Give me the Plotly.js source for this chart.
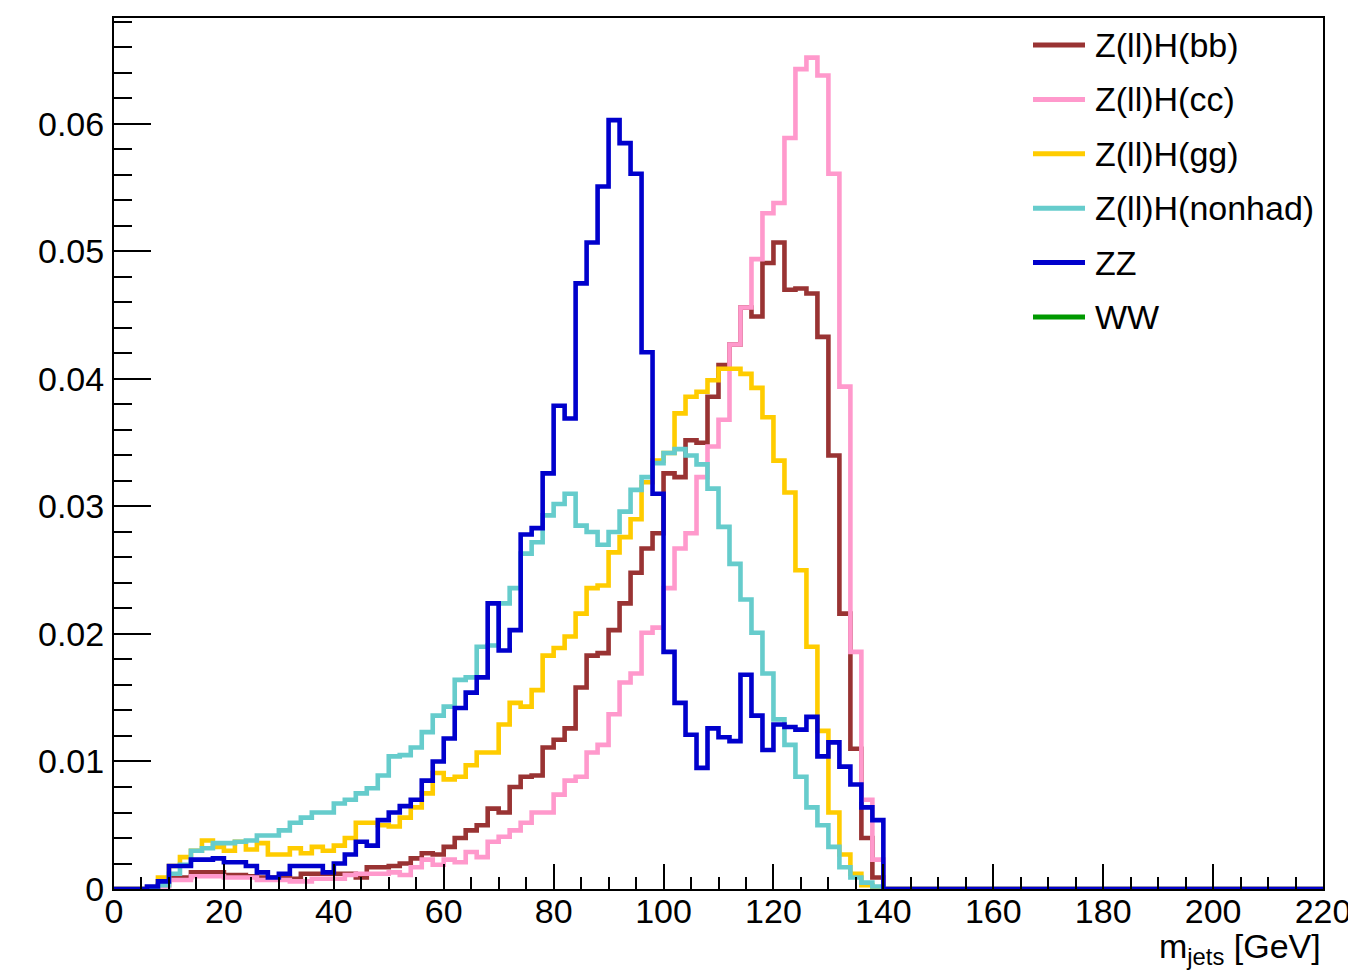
<!DOCTYPE html>
<html>
<head>
<meta charset="utf-8">
<script src="https://cdn.plot.ly/plotly-3.0.1.min.js"></script>
<style>html,body{margin:0;padding:0;background:#fff;}#chart{width:1348px;height:971px;}</style>
</head>
<body>
<div id="chart"></div>
<script>
// Histogram binning: 110 bins of 2 GeV from 0 to 220 GeV
const binWidth = 2;
const nBins = 110;

// Normalised m_jets distributions (per 2 GeV bin)
const zllHbb = [0,0,0,0,0.0003,0.0009,0.0009,0.0013,0.0013,0.0013,
0.0011,0.0011,0.001,0.0009,0.0009,0.0009,0.0008,0.0012,0.0012,0.0012,
0.0012,0.0012,0.0009,0.0017,0.0017,0.0018,0.002,0.0024,0.0028,0.0027,
0.0033,0.004,0.0046,0.005,0.0063,0.006,0.008,0.0088,0.0089,0.0111,
0.0117,0.0126,0.0158,0.0183,0.0185,0.0203,0.0224,0.0248,0.0267,0.0279,
0.0326,0.0323,0.0352,0.035,0.0386,0.0411,0.0427,0.0456,0.0449,0.0491,
0.0507,0.047,0.0471,0.0467,0.0433,0.034,0.0216,0.011,0.004,0.0009,
0,0,0,0,0,0,0,0,0,0, 0,0,0,0,0,0,0,0,0,0, 0,0,0,0,0,0,0,0,0,0, 0,0,0,0,0,0,0,0,0,0];

const zllHcc = [0,0,0,0,0.0002,0.0007,0.0007,0.001,0.001,0.001,
0.0009,0.0009,0.0009,0.0007,0.0007,0.0007,0.0006,0.0006,0.0008,0.0008,
0.0008,0.0011,0.0012,0.0012,0.0012,0.0013,0.0011,0.0017,0.0023,0.0019,
0.0023,0.0021,0.0029,0.0025,0.0037,0.0041,0.0046,0.0052,0.006,0.006,
0.0074,0.0085,0.0088,0.0107,0.0113,0.0137,0.0162,0.0169,0.0201,0.0205,
0.0236,0.0267,0.0279,0.0323,0.0347,0.0368,0.0427,0.0456,0.0494,0.053,
0.0538,0.0589,0.0643,0.0652,0.0638,0.0561,0.0394,0.0186,0.007,0.0023,
0,0,0,0,0,0,0,0,0,0, 0,0,0,0,0,0,0,0,0,0, 0,0,0,0,0,0,0,0,0,0, 0,0,0,0,0,0,0,0,0,0];

const zllHgg = [0,0,0,0.0001,0.0009,0.0018,0.0025,0.003,0.0038,0.0033,
0.003,0.0037,0.0031,0.0036,0.0027,0.0027,0.0032,0.0028,0.0033,0.003,
0.0034,0.004,0.0052,0.0052,0.005,0.0049,0.0056,0.0064,0.0075,0.0091,
0.0086,0.0088,0.0097,0.0107,0.0107,0.0129,0.0146,0.0143,0.0156,0.0183,
0.0189,0.0198,0.0216,0.0236,0.0238,0.0264,0.0276,0.029,0.0319,0.0336,
0.0342,0.0373,0.0386,0.039,0.0399,0.0408,0.0408,0.0404,0.0393,0.037,
0.0336,0.0311,0.025,0.019,0.0124,0.006,0.0027,0.0012,0.0003,0.0001,
0,0,0,0,0,0,0,0,0,0, 0,0,0,0,0,0,0,0,0,0, 0,0,0,0,0,0,0,0,0,0, 0,0,0,0,0,0,0,0,0,0];

const zllHnonhad = [0,0,0,0,0.0003,0.0012,0.0019,0.003,0.0032,0.0036,
0.0036,0.0037,0.0038,0.0042,0.0042,0.0046,0.0052,0.0056,0.006,0.006,
0.0067,0.007,0.0075,0.0079,0.0089,0.0104,0.0105,0.0111,0.0123,0.0136,
0.0143,0.0164,0.0166,0.019,0.0191,0.0224,0.0236,0.0263,0.0272,0.0293,
0.0302,0.031,0.0285,0.028,0.027,0.028,0.0296,0.0313,0.0323,0.0334,
0.0342,0.0345,0.034,0.0333,0.0314,0.0284,0.0255,0.0227,0.0201,0.0169,
0.0133,0.0113,0.0088,0.0064,0.005,0.0033,0.0017,0.0009,0.0005,0.0002,
0,0,0,0,0,0,0,0,0,0, 0,0,0,0,0,0,0,0,0,0, 0,0,0,0,0,0,0,0,0,0, 0,0,0,0,0,0,0,0,0,0];

const zz = [0,0,0,0.0002,0.0006,0.0018,0.0018,0.0023,0.0023,0.0024,
0.0021,0.0021,0.0018,0.0013,0.0009,0.0012,0.0018,0.0018,0.0018,0.0013,
0.002,0.0027,0.0037,0.0034,0.0054,0.006,0.0065,0.007,0.0085,0.01,
0.0118,0.0142,0.0154,0.0166,0.0224,0.0187,0.0203,0.0278,0.0283,0.0326,
0.0379,0.0369,0.0475,0.0507,0.0551,0.0603,0.0585,0.0561,0.0421,0.031,
0.0186,0.0146,0.0121,0.0095,0.0126,0.0119,0.0116,0.0168,0.0136,0.0109,
0.0129,0.0127,0.0125,0.0135,0.0104,0.0115,0.0096,0.0082,0.0064,0.0054,
0,0,0,0,0,0,0,0,0,0, 0,0,0,0,0,0,0,0,0,0, 0,0,0,0,0,0,0,0,0,0, 0,0,0,0,0,0,0,0,0,0];

// WW: no entries in any bin (nothing visible in the plot)
const ww = [0,0,0,0,0,0,0,0,0,0, 0,0,0,0,0,0,0,0,0,0, 0,0,0,0,0,0,0,0,0,0, 0,0,0,0,0,0,0,0,0,0,
0,0,0,0,0,0,0,0,0,0, 0,0,0,0,0,0,0,0,0,0, 0,0,0,0,0,0,0,0,0,0, 0,0,0,0,0,0,0,0,0,0,
0,0,0,0,0,0,0,0,0,0, 0,0,0,0,0,0,0,0,0,0, 0,0,0,0,0,0,0,0,0,0];

const seriesNames = ["Z(ll)H(bb)", "Z(ll)H(cc)", "Z(ll)H(gg)", "Z(ll)H(nonhad)", "ZZ", "WW"];
const seriesValues = [zllHbb, zllHcc, zllHgg, zllHnonhad, zz, ww];
const seriesColors = ["#993333", "#ff99cc", "#ffcc00", "#66cccc", "#0000cc", "#009900"];

const xTickVals = [0,20,40,60,80,100,120,140,160,180,200,220];
const yTickVals = [0,0.01,0.02,0.03,0.04,0.05,0.06];

// bin edges
const edges = [];
for (let i = 0; i <= nBins; i++) edges.push(i * binWidth);

const FONT = '"Liberation Sans", Arial, Helvetica, sans-serif';

// Drawing order: WW first (hidden under the axis), then legend order so ZZ ends on top
const drawOrder = [5, 0, 1, 2, 3, 4];
const traces = drawOrder.map(k => {
  const v = seriesValues[k];
  return {
    type: 'scatter', mode: 'lines', name: seriesNames[k],
    x: edges, y: v.concat([v[v.length - 1]]),
    line: {shape: 'hv', color: seriesColors[k], width: k === 5 ? 0 : 4.6},
    hoverinfo: 'x+y+name', showlegend: false
  };
});

// plot area in pixels (for placing the legend)
const L = 114, R = 25, T = 18, B = 82, W = 1348, H = 971;
const pw = W - L - R, ph = H - T - B;
const px2x = p => (p - L) / pw;
const py2y = p => (H - B - p) / ph;

const shapes = [], annotations = [];
const legY0 = 45, legStep = 54.4;
seriesNames.forEach((name, k) => {
  const yc = legY0 + k * legStep;
  shapes.push({type: 'line', xref: 'paper', yref: 'paper',
    x0: px2x(1033), x1: px2x(1085), y0: py2y(yc), y1: py2y(yc),
    line: {color: seriesColors[k], width: 5}});
  annotations.push({xref: 'paper', yref: 'paper', x: px2x(1093), y: py2y(yc),
    xanchor: 'left', yanchor: 'middle', showarrow: false, text: name,
    font: {family: FONT, size: 34, color: '#000'}});
});
annotations.push({xref: 'paper', yref: 'paper', x: 1, y: py2y(925),
  xanchor: 'right', yanchor: 'top', showarrow: false,
  text: 'm<sub>jets</sub> [GeV]', font: {family: FONT, size: 34, color: '#000'}});

const layout = {
  width: W, height: H,
  margin: {l: L, r: R, t: T, b: B, pad: 0},
  paper_bgcolor: '#fff', plot_bgcolor: '#fff',
  font: {family: FONT, size: 34, color: '#000'},
  showlegend: false,
  xaxis: {
    range: [0, 220], tickvals: xTickVals, ticktext: xTickVals.map(String),
    ticks: 'inside', ticklen: 25, tickwidth: 2, tickcolor: '#000',
    minor: {dtick: 5, ticks: 'inside', ticklen: 12, tickwidth: 2, tickcolor: '#000', showgrid: false},
    showline: true, linecolor: '#000', linewidth: 2, mirror: true,
    showgrid: false, zeroline: false, ticklabelstandoff: -9,
    ticklabeloverflow: 'allow',
    tickfont: {family: FONT, size: 34, color: '#000'}
  },
  yaxis: {
    range: [0, 0.06831], tickvals: yTickVals, ticktext: yTickVals.map(String),
    ticks: 'inside', ticklen: 37, tickwidth: 2, tickcolor: '#000',
    minor: {dtick: 0.002, ticks: 'inside', ticklen: 18, tickwidth: 2, tickcolor: '#000', showgrid: false},
    showline: true, linecolor: '#000', linewidth: 2, mirror: true,
    showgrid: false, zeroline: false, ticklabelstandoff: 1,
    ticklabeloverflow: 'allow',
    tickfont: {family: FONT, size: 34, color: '#000'}
  },
  shapes: shapes,
  annotations: annotations
};

Plotly.newPlot('chart', traces, layout, {displayModeBar: false, staticPlot: true});
</script>
</body>
</html>
